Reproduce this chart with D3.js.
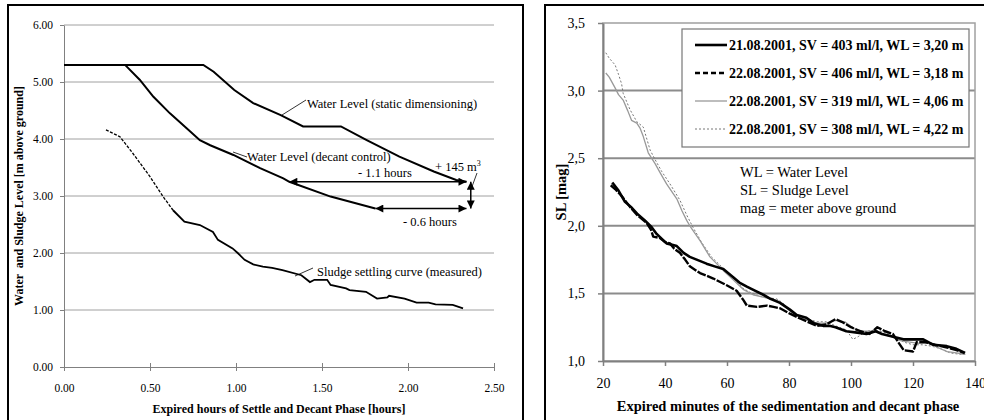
<!DOCTYPE html>
<html>
<head>
<meta charset="utf-8">
<script src="https://cdn.jsdelivr.net/npm/d3@7"></script>
<style>
body { margin: 0; background: #fff; }
svg text { font-family: "Liberation Serif", "Times New Roman", serif; fill: #000; }
</style>
</head>
<body>
<svg id="chart" width="984" height="420"></svg>
<script>
// ---- left figure: water and sludge level vs. hours ----
const leftXTicks = [0, 0.5, 1, 1.5, 2, 2.5];
const leftYTicks = [0, 1, 2, 3, 4, 5, 6];

const staticLevel = [[0,5.30],[0.81,5.30],[0.87,5.18],[0.99,4.86],[1.10,4.63],[1.26,4.42],[1.39,4.22],
  [1.61,4.22],[1.76,3.98],[1.95,3.69],[2.15,3.43],[2.28,3.28],[2.34,3.25]];
const decantLevel = [[0,5.30],[0.355,5.30],[0.44,5.04],[0.52,4.74],[0.616,4.45],[0.713,4.19],[0.79,3.98],
  [0.85,3.89],[0.985,3.72],[1.14,3.49],[1.275,3.31],[1.31,3.25],[1.55,2.99],[1.81,2.78]];
const sludgeStart = [[0.244,4.16],[0.325,4.04],[0.40,3.75],[0.50,3.34],[0.576,2.99],[0.634,2.75]];
const sludgeCurve = [[0.634,2.75],[0.70,2.55],[0.79,2.49],[0.866,2.37],[0.895,2.23],[0.98,2.08],[1.01,2.00],
  [1.05,1.88],[1.10,1.80],[1.156,1.76],[1.21,1.74],[1.27,1.70],[1.38,1.61],[1.43,1.49],[1.456,1.53],[1.53,1.53],
  [1.55,1.44],[1.64,1.38],[1.66,1.35],[1.756,1.32],[1.82,1.20],[1.88,1.22],[1.89,1.25],[1.98,1.20],[2.05,1.13],
  [2.12,1.13],[2.16,1.10],[2.26,1.09],[2.32,1.03]];
const arrowHours11 = [[1.31,3.25],[2.34,3.25]];
const arrowHours06 = [[1.81,2.78],[2.34,2.78]];
const arrowVolume = [[2.365,3.25],[2.365,2.78]];

// ---- right figure: sludge level vs. minutes ----
const rightXTicks = [20, 40, 60, 80, 100, 120, 140];
const rightYTicks = [1.0, 1.5, 2.0, 2.5, 3.0, 3.5];
const legendLabels = [
  "21.08.2001, SV = 403 ml/l, WL = 3,20 m",
  "22.08.2001, SV = 406 ml/l, WL = 3,18 m",
  "22.08.2001, SV = 319 ml/l, WL = 4,06 m",
  "22.08.2001, SV = 308 ml/l, WL = 4,22 m"
];
const run403 = [[23,2.32],[25,2.26],[27,2.18],[29,2.14],[31,2.09],[33.5,2.04],[35.7,1.99],[37.3,1.94],[40.5,1.87],
  [43.8,1.85],[46,1.80],[48,1.77],[50.2,1.75],[53.4,1.72],[56,1.70],[58.8,1.68],[62,1.62],[64,1.58],[66.4,1.55],
  [69,1.52],[71.7,1.49],[74,1.46],[77.1,1.43],[80.3,1.38],[82.5,1.34],[85.6,1.32],[88,1.28],[91,1.26],[93,1.26],
  [95,1.25],[98.5,1.22],[102,1.21],[105,1.20],[108,1.22],[110,1.20],[113.6,1.18],[116.9,1.16],[120,1.16],
  [123.3,1.16],[126.6,1.12],[130.9,1.11],[134,1.09],[136.8,1.06]];
const run406 = [[22.5,2.30],[24,2.27],[26,2.22],[28.7,2.14],[31,2.08],[34.1,2.02],[35.5,1.97],[36.2,1.92],
  [38.4,1.91],[40,1.88],[41.6,1.87],[43,1.83],[44.8,1.80],[46.5,1.75],[48,1.70],[51.3,1.65],[53.5,1.63],
  [55.6,1.61],[59.9,1.56],[63.1,1.52],[65.3,1.45],[66.4,1.41],[69.7,1.40],[72.9,1.41],[75,1.40],[77.1,1.39],
  [80.3,1.35],[83,1.32],[86,1.29],[89,1.26],[92,1.27],[95,1.31],[97,1.29],[100,1.25],[103,1.22],[106,1.20],
  [108.5,1.25],[111,1.22],[113.5,1.20],[115.5,1.13],[117,1.08],[120,1.07],[121.2,1.14],[124,1.14],[127,1.12],
  [131,1.10],[134,1.08],[136.5,1.06]];
const run319 = [[20.9,3.13],[22,3.10],[23.9,3.02],[25,2.97],[26.5,2.93],[28,2.85],[29.2,2.78],[30.9,2.76],
  [32,2.72],[33,2.66],[34.6,2.54],[36.8,2.46],[38.5,2.39],[40.5,2.31],[43.8,2.20],[45.5,2.11],[47,2.04],
  [48,2.00],[51.3,1.89],[54.5,1.77],[58.8,1.67],[62,1.60],[65.2,1.53],[68.4,1.49],[72,1.47],[76,1.45],[78,1.42],
  [80.3,1.37],[83,1.33],[86,1.30],[89,1.28],[92,1.28],[95,1.30],[98,1.29],[101,1.24],[104,1.22],[107,1.22],
  [110,1.20],[113,1.18],[116,1.15],[119,1.14],[122,1.13],[125,1.13],[128,1.10],[131,1.07],[134,1.06],[136.5,1.05]];
const run308 = [[20.9,3.28],[22,3.24],[23.9,3.19],[25,3.12],[26,3.05],[26.5,2.98],[28.7,2.86],[30.9,2.77],
  [33,2.73],[35.2,2.56],[36.8,2.49],[39,2.40],[41.6,2.31],[44.8,2.19],[47,2.08],[49,1.99],[52,1.87],[55,1.77],
  [59,1.68],[62,1.62],[65,1.54],[68,1.50],[72,1.47],[76,1.46],[78,1.43],[80.3,1.37],[83,1.33],[86,1.31],
  [89,1.29],[92,1.29],[95,1.26],[98.5,1.23],[100.6,1.16],[102.3,1.18],[105,1.22],[108,1.23],[111,1.21],
  [114,1.18],[117,1.14],[120,1.12],[123,1.12],[126,1.11],[129,1.09],[132,1.06],[135,1.05],[137,1.05]];

const svg = d3.select("#chart");

// arrow head marker
svg.append("defs").append("marker")
  .attr("id", "head")
  .attr("viewBox", "0 0 10 10")
  .attr("refX", 10).attr("refY", 5)
  .attr("markerWidth", 10).attr("markerHeight", 8)
  .attr("markerUnits", "userSpaceOnUse")
  .attr("orient", "auto-start-reverse")
  .append("path").attr("d", "M0,0L10,5L0,10Z").attr("fill", "#000");

// panel frames
svg.append("rect").attr("x", 8).attr("y", 5).attr("width", 515).attr("height", 430)
  .attr("fill", "none").attr("stroke", "#000").attr("stroke-width", 2);
svg.append("rect").attr("x", 545).attr("y", 5).attr("width", 450).attr("height", 430)
  .attr("fill", "none").attr("stroke", "#000").attr("stroke-width", 2);

// ================= left =================
const xL = d3.scaleLinear().domain([0, 2.5]).range([64, 494]);
const yL = d3.scaleLinear().domain([0, 6]).range([367, 25]);
const left = svg.append("g");

left.append("g").selectAll("line").data(leftYTicks.filter(d => d > 0)).enter().append("line")
  .attr("x1", xL(0)).attr("x2", xL(2.5)).attr("y1", d => yL(d)).attr("y2", d => yL(d))
  .attr("stroke", "#a0a0a0").attr("stroke-width", 1);

const axL = left.append("g").attr("transform", `translate(0,${yL(0)})`)
  .call(d3.axisBottom(xL).tickValues(leftXTicks).tickFormat(d3.format(".2f")).tickSizeInner(4).tickSizeOuter(0).tickPadding(13));
axL.select(".domain").attr("stroke", "#808080");
axL.selectAll(".tick line").attr("stroke", "#808080").attr("y1", -4);
axL.selectAll("text").attr("font-size", 11.5).attr("font-family", "Liberation Serif");

const ayL = left.append("g").attr("transform", `translate(${xL(0)},0)`)
  .call(d3.axisLeft(yL).tickValues(leftYTicks).tickFormat(d3.format(".2f")).tickSizeInner(4).tickSizeOuter(0).tickPadding(7));
ayL.select(".domain").attr("stroke", "#808080");
ayL.selectAll(".tick line").attr("stroke", "#808080");
ayL.selectAll("text").attr("font-size", 11.5).attr("font-family", "Liberation Serif");

left.append("text").attr("x", (xL(0) + xL(2.5)) / 2).attr("y", 413).attr("text-anchor", "middle")
  .attr("font-size", 12).attr("font-weight", "bold")
  .text("Expired hours of Settle and Decant Phase [hours]");
left.append("text").attr("transform", `translate(23,${(yL(0) + yL(6)) / 2}) rotate(-90)`)
  .attr("text-anchor", "middle").attr("font-size", 12).attr("font-weight", "bold")
  .attr("xml:space", "preserve").style("white-space", "pre")
  .text("Water  and Sludge Level [m above ground]");

const lineL = d3.line().x(d => xL(d[0])).y(d => yL(d[1]));
left.append("path").datum(staticLevel).attr("d", lineL).attr("fill", "none").attr("stroke", "#000").attr("stroke-width", 2);
left.append("path").datum(decantLevel).attr("d", lineL).attr("fill", "none").attr("stroke", "#000").attr("stroke-width", 2);
left.append("path").datum(sludgeStart).attr("d", lineL).attr("fill", "none").attr("stroke", "#000")
  .attr("stroke-width", 1.3).attr("stroke-dasharray", "3,1.5");
left.append("path").datum(sludgeCurve).attr("d", lineL).attr("fill", "none").attr("stroke", "#000").attr("stroke-width", 1.8);

[arrowHours11, arrowHours06, arrowVolume].forEach(a => {
  left.append("path").datum(a).attr("d", lineL).attr("fill", "none").attr("stroke", "#000").attr("stroke-width", 1.5)
    .attr("marker-start", "url(#head)").attr("marker-end", "url(#head)");
});

// annotations with leader lines
const notes = [
  { t: "Water Level (static dimensioning)", x: 307, y: 108, lx1: 282, ly1: 115, lx2: 306, ly2: 100 },
  { t: "Water Level (decant control)", x: 247, y: 161, lx1: 233, ly1: 152, lx2: 247, ly2: 157 },
  { t: "Sludge settling curve (measured)", x: 317, y: 276, lx1: 295, ly1: 276, lx2: 313, ly2: 268 },
  { t: "- 1.1 hours", x: 358, y: 177 },
  { t: "- 0.6 hours", x: 403, y: 226 }
];
notes.forEach(n => {
  left.append("text").attr("x", n.x).attr("y", n.y).attr("font-size", 12.5).text(n.t);
  if (n.lx1 !== undefined) {
    left.append("line").attr("x1", n.lx1).attr("y1", n.ly1).attr("x2", n.lx2).attr("y2", n.ly2)
      .attr("stroke", "#000").attr("stroke-width", 0.8);
  }
});
const vol = left.append("text").attr("x", 435).attr("y", 171).attr("font-size", 12.5).text("+ 145 m");
vol.append("tspan").attr("dy", -5).attr("font-size", 8).text("3");
left.append("line").attr("x1", 477).attr("y1", 173).attr("x2", xL(2.365)).attr("y2", 190)
  .attr("stroke", "#000").attr("stroke-width", 0.8);

// ================= right =================
const xR = d3.scaleLinear().domain([20, 140]).range([603, 975]);
const yR = d3.scaleLinear().domain([1, 3.5]).range([361, 23]);
const right = svg.append("g");

right.append("g").selectAll("line").data(rightYTicks.filter(d => d > 1 && d < 3.5)).enter().append("line")
  .attr("x1", xR(20)).attr("x2", xR(140)).attr("y1", d => yR(d)).attr("y2", d => yR(d))
  .attr("stroke", "#8c8c8c").attr("stroke-width", 2);
right.append("rect").attr("x", xR(20)).attr("y", yR(3.5)).attr("width", xR(140) - xR(20)).attr("height", yR(1) - yR(3.5))
  .attr("fill", "none").attr("stroke", "#a0a0a0").attr("stroke-width", 1.5);

const axR = right.append("g").attr("transform", `translate(0,${yR(1)})`)
  .call(d3.axisBottom(xR).tickValues(rightXTicks).tickSizeInner(5).tickSizeOuter(0).tickPadding(12));
axR.select(".domain").attr("stroke", "#808080").attr("stroke-width", 2);
axR.selectAll(".tick line").attr("stroke", "#808080").attr("stroke-width", 1.5);
axR.selectAll("text").attr("font-size", 14).attr("font-family", "Liberation Serif");

const ayR = right.append("g").attr("transform", `translate(${xR(20)},0)`)
  .call(d3.axisLeft(yR).tickValues(rightYTicks).tickFormat(d => d3.format(".1f")(d).replace(".", ","))
    .tickSizeInner(5).tickSizeOuter(0).tickPadding(13));
ayR.select(".domain").attr("stroke", "#808080").attr("stroke-width", 2);
ayR.selectAll(".tick line").attr("stroke", "#808080").attr("stroke-width", 1.5);
ayR.selectAll("text").attr("font-size", 14).attr("font-family", "Liberation Serif");

right.append("text").attr("x", (xR(20) + xR(140)) / 2 - 1).attr("y", 411).attr("text-anchor", "middle")
  .attr("font-size", 14.5).attr("font-weight", "bold")
  .text("Expired minutes of the sedimentation and decant phase");
right.append("text").attr("transform", `translate(566,${(yR(1) + yR(3.5)) / 2}) rotate(-90)`)
  .attr("text-anchor", "middle").attr("font-size", 14.5).attr("font-weight", "bold").text("SL [mag]");

// dense data makes the dashed run look almost solid in the plot, so the plot dash is tighter than the legend's
const runs = [
  { data: run403, stroke: "#000", width: 2.6, dash: null, legendDash: null },
  { data: run406, stroke: "#000", width: 2.4, dash: "9,1.5", legendDash: "5,3" },
  { data: run319, stroke: "#999", width: 1.3, dash: null, legendDash: null },
  { data: run308, stroke: "#777", width: 1, dash: "2,2", legendDash: "2,2" }
];
const lineR = d3.line().x(d => xR(d[0])).y(d => yR(d[1]));
right.selectAll("path.run").data(runs.slice().reverse()).enter().append("path").attr("class", "run")
  .attr("d", d => lineR(d.data)).attr("fill", "none")
  .attr("stroke", d => d.stroke).attr("stroke-width", d => d.width)
  .attr("stroke-dasharray", d => d.dash).attr("stroke-linejoin", "round");

// legend
const leg = right.append("g");
leg.append("rect").attr("x", 682).attr("y", 29).attr("width", 287).attr("height", 118)
  .attr("fill", "#fff").attr("stroke", "#777").attr("stroke-width", 1.2);
const items = leg.selectAll("g.item").data(runs).enter().append("g").attr("class", "item")
  .attr("transform", (d, i) => `translate(0,${45 + i * 28})`);
items.append("line").attr("x1", 695).attr("x2", 727).attr("y1", 0).attr("y2", 0)
  .attr("stroke", d => d.stroke).attr("stroke-width", d => d.width).attr("stroke-dasharray", d => d.legendDash);
items.append("text").attr("x", 729).attr("y", 5).attr("font-size", 14).attr("font-weight", "bold")
  .text((d, i) => legendLabels[i]);

// abbreviations
const abbrev = ["WL = Water Level", "SL = Sludge Level", "mag = meter above ground"];
right.selectAll("text.abbr").data(abbrev).enter().append("text").attr("class", "abbr")
  .attr("x", 740).attr("y", (d, i) => 177 + i * 18).attr("font-size", 14.5).text(d => d);
</script>
</body>
</html>
